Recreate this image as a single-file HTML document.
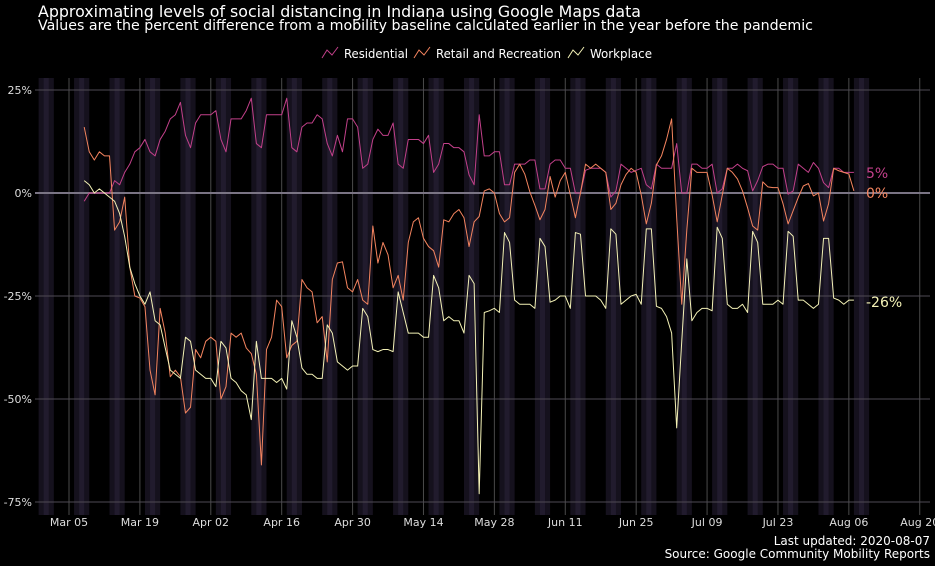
<!DOCTYPE html>
<html><head><meta charset="utf-8">
<style>
html,body{margin:0;padding:0;background:#000;width:935px;height:566px;overflow:hidden}
svg{display:block}
text{font-family:"DejaVu Sans","Liberation Sans",sans-serif}
</style></head>
<body>
<svg id="chart" width="935" height="566" viewBox="0 0 935 566">
  <rect x="0" y="0" width="935" height="566" fill="#000"/>
  <text x="38" y="17" fill="#fff" font-size="16" textLength="603" lengthAdjust="spacingAndGlyphs">Approximating levels of social distancing in Indiana using Google Maps data</text>
  <text x="38" y="30" fill="#fff" font-size="14" textLength="775" lengthAdjust="spacingAndGlyphs">Values are the percent difference from a mobility baseline calculated earlier in the year before the pandemic</text>
  <g id="bands"></g>
  <g id="grid"></g>
  <g id="series"></g>
  <g id="axes"></g>
  <g>
    <g>
      <path d="M322 58 L327 50 L332 55 L338 47" stroke="#c2408a" fill="none" stroke-width="1"/>
      <text x="344" y="58" fill="#fff" font-size="12" textLength="64" lengthAdjust="spacingAndGlyphs">Residential</text>
    </g>
    <g>
      <path d="M414 58 L419 50 L424 55 L430 47" stroke="#f4845f" fill="none" stroke-width="1"/>
      <text x="436" y="58" fill="#fff" font-size="12" textLength="125" lengthAdjust="spacingAndGlyphs">Retail and Recreation</text>
    </g>
    <g>
      <path d="M568 58 L573 50 L578 55 L584 47" stroke="#f4f2b6" fill="none" stroke-width="1"/>
      <text x="590" y="58" fill="#fff" font-size="12" textLength="62" lengthAdjust="spacingAndGlyphs">Workplace</text>
    </g>
  </g>
  <text x="930" y="545" text-anchor="end" fill="#fff" font-size="12">Last updated: 2020-08-07</text>
  <text x="930" y="558" text-anchor="end" fill="#fff" font-size="12">Source: Google Community Mobility Reports</text>
</svg>
<script>
// day index 0 = Mar 05 2020; series start at day 3 (Mar 08)
const startDay = 3;
const residential = [-2,0,0,0,0,0,3,2,5,7,10,11,13,10,9,13,15,18,19,22,14,11,17,19,19,19,20,13,10,18,18,18,20,23,12,11,19,19,19,19,23,11,10,16,17,17,19,18,12,9,14,10,18,18,16,6,7,13,15.5,14,14,17,7,6,13,13,13,12,14,5,7,12,12,11,11,10,4.4,2,19,9,9,10,10,2,2,7,7,7,8,8,1,1,7,8,8,6,6,0,0,5.5,6,6,6,5,-1,0.5,7,6,5,5.5,6,2,1,7,6,6,6,12,0,0,7,7,6,6,7,0,1,6,6,7,6,5.4,0.5,3,6.4,7,7,6,6,-0.3,0.5,7,6,5,7.4,6,2.5,1.3,6,6,5,5,5];
const retail = [16,10,8,10,9,9,-9,-7,-1,-18,-25,-25.5,-27.6,-43,-49,-28,-34,-44.6,-43,-44.6,-53.4,-52,-38,-40,-36,-35,-36,-50,-47,-34,-35,-34,-37.6,-39,-44,-66,-38,-35,-26,-27.6,-40,-37,-36,-21,-23,-24,-31.5,-30,-41,-21,-17,-16.7,-23,-24,-21,-26,-27,-8,-17,-12,-15,-23,-20,-26,-12,-7,-6,-11,-13,-14,-18,-6.5,-7,-5,-4,-6,-13,-7,-5.7,0.5,1,0,-5,-7,-6,5,7,4.6,0.3,-3,-6.5,-4,4,-1,3,5,-0.5,-6,0,7,6,7,6,5,-4,-2.5,2,4.5,6,5,-0.5,-7.5,-2.5,6.8,9,13,18,-6,-27,-9,6,5,5,5,-0.5,-7,-0.5,6,5,3.4,0.5,-3.6,-8,-9,2.7,1.5,1.3,1.3,-2.6,-7.5,-4.3,-1.1,1.7,2.3,-0.7,0,-6.8,-2.6,6,5.4,5,4.6,0.5];
const workplace = [3,2,0,1,0,-1,-2,-5,-10.6,-18,-22,-25,-27,-24,-31,-32,-37.6,-43,-44,-45,-35,-36,-43,-44,-45,-45,-47,-36,-37.6,-45,-46,-48,-49,-55,-36,-45,-45,-45,-46,-45,-47.6,-31,-35,-42.5,-44,-44,-45,-45,-32,-34,-41,-42,-43,-42,-42,-28,-30,-38,-38.5,-38,-38,-38.5,-24,-29,-34,-34,-34,-35,-35,-20,-23,-31,-30,-31,-31,-34,-20,-22,-73,-29,-28.6,-28,-29,-9.6,-12,-26,-27,-27,-27,-28,-11,-13,-26.5,-26,-25,-25,-28,-9.6,-10,-25,-25,-25,-26,-28,-8.7,-10,-27,-26,-25,-24.6,-27,-8.7,-8.7,-27.5,-28,-30,-34,-57,-36,-16,-31,-29,-28,-28,-28.6,-8.3,-11,-27,-28,-28,-27,-29,-9.3,-12,-27,-27,-27,-26,-27,-9.3,-10.5,-26,-26,-27,-28,-27,-11,-11,-25.5,-26,-27,-26,-26];
const yTicks = [25,0,-25,-50,-75];
const yTickLabels = ["25%","0%","-25%","-50%","-75%"];
const xTickDays = [0,14,28,42,56,70,84,98,112,126,140,154,168];
const xTickLabels = ["Mar 05","Mar 19","Apr 02","Apr 16","Apr 30","May 14","May 28","Jun 11","Jun 25","Jul 09","Jul 23","Aug 06","Aug 20"];
const endLabels = ["5%","0%","-26%"];

const NS = "http://www.w3.org/2000/svg";
const PL = 35, PR = 930, PT = 78, PB = 515;
function xS(d){ return 69 + 5.064 * d; }
function yS(v){ return 193 - v * 4.12; }
function mk(tag, attrs, parent){
  const el = document.createElementNS(NS, tag);
  for (const k in attrs) el.setAttribute(k, attrs[k]);
  parent.appendChild(el);
  return el;
}
const bands = document.getElementById('bands');
for (let s = -5; s <= 157; s += 7) {
  const o = mk('rect', {x: xS(s-1), y: PT, width: xS(s+2)-xS(s-1), height: PB-PT, fill: '#15111d'}, bands);
  
  
  const i = mk('rect', {x: xS(s), y: PT, width: xS(s+1)-xS(s), height: PB-PT, fill: '#211b2d'}, bands);
  
  
}
const grid = document.getElementById('grid');
xTickDays.forEach(function(d){
  const l = mk('line', {x1: xS(d), x2: xS(d), y1: PT, y2: PB, stroke: '#4a4a4a', 'stroke-width': 1}, grid);
  
  
});
yTicks.forEach(function(v){
  const l = mk('line', {x1: PL, x2: PR, y1: yS(v), y2: yS(v), stroke: v === 0 ? '#7a7484' : '#4e4a54', 'stroke-width': v === 0 ? 2 : 1}, grid);
  
  
});
const series = document.getElementById('series');
function drawLine(arr, color, name){
  const pts = arr.map(function(v, i){ return xS(startDay + i).toFixed(2) + ',' + yS(v).toFixed(2); }).join(' ');
  const p = mk('polyline', {points: pts, fill: 'none', stroke: color, 'stroke-width': 1, 'stroke-linejoin': 'round'}, series);
  
  
}
drawLine(residential, '#c2408a', 'residential-line');
drawLine(retail, '#f4845f', 'retail-line');
drawLine(workplace, '#f4f2b6', 'workplace-line');

const axes = document.getElementById('axes');
yTicks.forEach(function(v, i){
  const t = mk('text', {x: 32, y: yS(v) + 4, 'text-anchor': 'end', fill: '#ddd', 'font-size': 11}, axes);
  t.textContent = yTickLabels[i];
  
  
});
xTickDays.forEach(function(d, i){
  const t = mk('text', {x: xS(d), y: 526, 'text-anchor': 'middle', fill: '#ddd', 'font-size': 11}, axes);
  t.textContent = xTickLabels[i];
  
  
});
const lastIdx = residential.length - 1;
const lastVals = [residential[lastIdx], retail[lastIdx], workplace[lastIdx]];
const endColors = ['#c2408a', '#f4845f', '#f4f2b6'];
const endNames = ['end-label-residential', 'end-label-retail', 'end-label-workplace'];
const endY = [yS(lastVals[0]) , yS(lastVals[1]), yS(lastVals[2])];
endY[0] = Math.min(endY[0], endY[1] - 20);
endLabels.forEach(function(lbl, i){
  const t = mk('text', {x: 866, y: endY[i] + 7, fill: endColors[i], 'font-size': 14}, axes);
  t.textContent = lbl;
  
  
});
</script>
</body></html>
